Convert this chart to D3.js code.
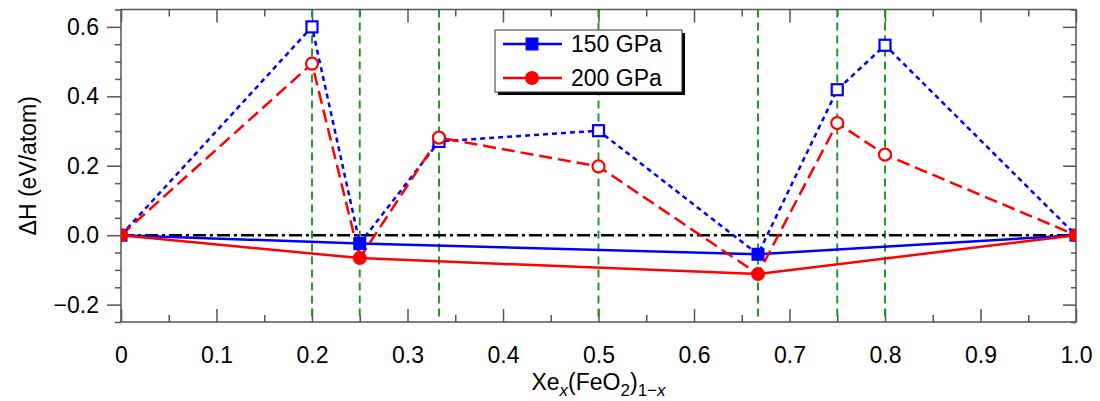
<!DOCTYPE html>
<html>
<head>
<meta charset="utf-8">
<script src="https://cdn.jsdelivr.net/npm/d3@7"></script>
<style>
body{margin:0;background:#fff}
svg{font-family:"Liberation Sans",Arial,sans-serif}
</style>
</head>
<body>
<svg id="chart"></svg>
<script>
// compositions x in Xe_x(FeO2)_(1-x)
var comps = [0, 0.2, 0.25, 0.333, 0.5, 0.667, 0.75, 0.8, 1];
var h150 = [0, 0.600, -0.024, 0.270, 0.301, -0.055, 0.419, 0.547, 0];
var h200 = [0, 0.494, -0.066, 0.281, 0.198, -0.112, 0.323, 0.232, 0];
var stableIdx = [0, 2, 5, 8];
var guideX = [0.2, 0.25, 0.333, 0.5, 0.667, 0.75, 0.8];
var xTicks = [0, 0.1, 0.2, 0.3, 0.4, 0.5, 0.6, 0.7, 0.8, 0.9, 1.0];
var xMinor = [0.05, 0.15, 0.25, 0.35, 0.45, 0.55, 0.65, 0.75, 0.85, 0.95];
var yTicks = [-0.2, 0, 0.2, 0.4, 0.6];
var yMinor = [-0.25, -0.15, -0.1, -0.05, 0.05, 0.1, 0.15, 0.25, 0.3, 0.35, 0.45, 0.5, 0.55, 0.65];
var seriesNames = ["150 GPa", "200 GPa"];

var screen = {width:1100, height:401};
var margins = {left:121, right:24, top:9.5, bottom:79};
var graph = {
    width:screen.width-margins.left-margins.right,
    height:screen.height-margins.top-margins.bottom
};

var svg = d3.select("#chart")
    .attr("width",screen.width)
    .attr("height",screen.height);

var xScale = d3.scaleLinear().domain([0,1]).range([0,graph.width]);
var yScale = d3.scaleLinear().domain([-0.25,0.65]).range([graph.height,0]);

var target = svg.append("g")
    .attr("transform","translate("+margins.left+","+margins.top+")");

target.append("clipPath").attr("id","plotclip")
    .append("rect").attr("width",graph.width).attr("height",graph.height);

var axisColor = "#555";
var styleAxis = function(g)
{
    g.select(".domain").remove();
    g.selectAll(".tick line").attr("stroke",axisColor).attr("stroke-width",1.5);
    g.selectAll(".tick text").attr("fill","#000").style("font-size","23px")
        .style("font-family","'Liberation Sans',Arial,sans-serif");
};

var addAxis = function(axis,dx,dy)
{
    var g = target.append("g").attr("transform","translate("+dx+","+dy+")").call(axis);
    styleAxis(g);
    return g;
};

// bottom axis, ticks inward
addAxis(d3.axisBottom(xScale).tickValues(xTicks).tickSizeInner(-13).tickSizeOuter(0).tickPadding(25)
    .tickFormat(function(d){return d===0?"0":d3.format(".1f")(d);}),0,graph.height);
addAxis(d3.axisBottom(xScale).tickValues(xMinor).tickSizeInner(-7).tickSizeOuter(0).tickFormat(""),0,graph.height);

// top axis, ticks inward
addAxis(d3.axisTop(xScale).tickValues(xTicks).tickSizeInner(-13).tickSizeOuter(0).tickFormat(""),0,0);
addAxis(d3.axisTop(xScale).tickValues(xMinor).tickSizeInner(-7).tickSizeOuter(0).tickFormat(""),0,0);

// left axis, ticks outward
addAxis(d3.axisLeft(yScale).tickValues(yTicks).tickSizeInner(14).tickSizeOuter(0).tickPadding(8)
    .tickFormat(function(d){return d3.format(".1f")(d).replace("-","\u2212");}),0,0);
addAxis(d3.axisLeft(yScale).tickValues(yMinor).tickSizeInner(6).tickSizeOuter(0).tickFormat(""),0,0);

// right axis, ticks inward
addAxis(d3.axisRight(yScale).tickValues(yTicks).tickSizeInner(-13).tickSizeOuter(0).tickFormat(""),graph.width,0);
addAxis(d3.axisRight(yScale).tickValues(yMinor).tickSizeInner(-5).tickSizeOuter(0).tickFormat(""),graph.width,0);

// frame
target.append("rect").attr("width",graph.width).attr("height",graph.height)
    .attr("fill","none").attr("stroke",axisColor).attr("stroke-width",1.5);

var plot = target.append("g").attr("clip-path","url(#plotclip)");

// green guide lines
plot.selectAll("line.guide").data(guideX).enter().append("line")
    .attr("class","guide")
    .attr("x1",function(d){return xScale(d);})
    .attr("x2",function(d){return xScale(d);})
    .attr("y1",0).attr("y2",graph.height)
    .attr("stroke","#1c941c").attr("stroke-width",1.9)
    .attr("stroke-dasharray","8,5");

// zero line
plot.append("line")
    .attr("x1",xScale(0)).attr("x2",xScale(1))
    .attr("y1",yScale(0)).attr("y2",yScale(0))
    .attr("stroke","#000").attr("stroke-width",2.5)
    .attr("stroke-dasharray","13,4,3,4");

var line = d3.line()
    .x(function(d){return xScale(d.x);})
    .y(function(d){return yScale(d.y);});

var makePts = function(vals)
{
    return comps.map(function(c,i){return {x:c,y:vals[i],i:i};});
};

var series = [
    {name:seriesNames[0], vals:h150, color:"#0000ff", dash:"5,4", shape:"square"},
    {name:seriesNames[1], vals:h200, color:"#ff0000", dash:"13,6", shape:"circle"}
];

// hulls
series.forEach(function(s)
{
    var hull = makePts(s.vals).filter(function(p){return stableIdx.indexOf(p.i)>=0;});
    plot.append("path").datum(hull).attr("d",line)
        .attr("fill","none").attr("stroke",s.color).attr("stroke-width",2.5);
});

// all-point dashed lines
series.forEach(function(s)
{
    plot.append("path").datum(makePts(s.vals)).attr("d",line)
        .attr("fill","none").attr("stroke",s.color).attr("stroke-width",2.5)
        .attr("stroke-dasharray",s.dash);
});

// markers
series.forEach(function(s)
{
    makePts(s.vals).forEach(function(p)
    {
        var stable = stableIdx.indexOf(p.i)>=0;
        var cx = xScale(p.x), cy = yScale(p.y);
        if(s.shape==="square")
        {
            var sz = stable?13:11;
            plot.append("rect")
                .attr("x",cx-sz/2).attr("y",cy-sz/2)
                .attr("width",sz).attr("height",sz)
                .attr("fill",stable?s.color:"#fff")
                .attr("stroke",s.color).attr("stroke-width",stable?0:2.2);
        }
        else
        {
            plot.append("circle")
                .attr("cx",cx).attr("cy",cy)
                .attr("r",stable?7:6)
                .attr("fill",stable?s.color:"#fff")
                .attr("stroke",s.color).attr("stroke-width",stable?0:2.2);
        }
    });
});

// legend
var leg = svg.append("g").attr("transform","translate(495,30)");
leg.append("rect").attr("x",3).attr("y",3).attr("width",187).attr("height",62).attr("fill","#000");
leg.append("rect").attr("width",187).attr("height",62).attr("fill","#fff")
    .attr("stroke","#333").attr("stroke-width",1);
series.forEach(function(s,i)
{
    var ly = 14+i*34;
    leg.append("line").attr("x1",8).attr("x2",67).attr("y1",ly).attr("y2",ly)
        .attr("stroke",s.color).attr("stroke-width",2.5);
    if(s.shape==="square")
    {
        leg.append("rect").attr("x",37-6.5).attr("y",ly-6.5).attr("width",13).attr("height",13)
            .attr("fill",s.color);
    }
    else
    {
        leg.append("circle").attr("cx",37).attr("cy",ly).attr("r",7).attr("fill",s.color);
    }
    leg.append("text").attr("x",76).attr("y",ly+8).text(s.name)
        .style("font-size","23px").attr("fill","#000");
});

// axis titles
var xt = svg.append("text")
    .attr("x",margins.left+graph.width/2).attr("y",390)
    .attr("text-anchor","middle").style("font-size","23px");
xt.append("tspan").text("Xe");
xt.append("tspan").attr("font-style","italic").attr("dy",6).style("font-size","17px").text("x");
xt.append("tspan").attr("dy",-6).text("(FeO");
xt.append("tspan").attr("dy",6).style("font-size","17px").text("2");
xt.append("tspan").attr("dy",-6).text(")");
xt.append("tspan").attr("dy",6).style("font-size","17px").text("1\u2212");
xt.append("tspan").attr("font-style","italic").style("font-size","17px").text("x");

svg.append("text")
    .attr("transform","translate(36,"+(margins.top+yScale(0.2))+") rotate(-90)")
    .attr("text-anchor","middle").style("font-size","23px")
    .text("\u0394H (eV/atom)");
</script>
</body>
</html>
